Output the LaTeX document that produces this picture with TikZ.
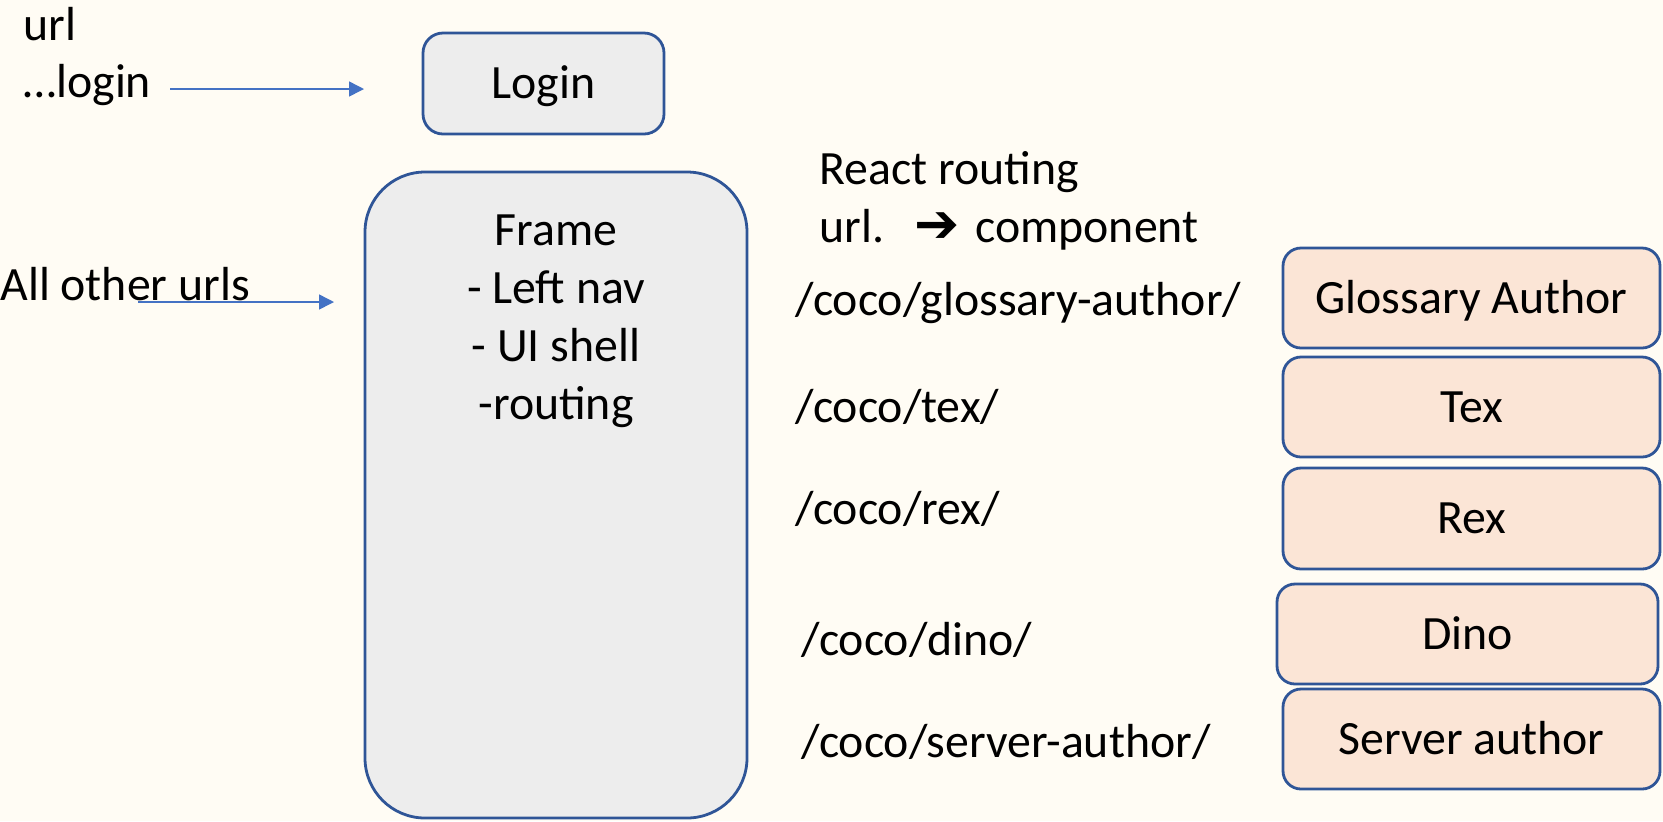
\documentclass[tikz,border=0pt]{standalone}
\usepackage{fontspec}
\setmainfont{Carlito}
\newfontfamily\dejavu{DejaVu Sans}
\usetikzlibrary{arrows.meta}
\definecolor{bg}{HTML}{FFFCF4}
\definecolor{edge}{HTML}{2F5597}
\definecolor{grayfill}{HTML}{EDEDED}
\definecolor{peach}{HTML}{FBE5D6}
\definecolor{arrowblue}{HTML}{4472C4}
\begin{document}
\begin{tikzpicture}[x=0.5pt,y=-0.5pt,
  bigfont/.style={font=\fontsize{23.9pt}{29pt}\selectfont},
  txt/.style={bigfont, inner sep=0pt, anchor=base west},
  ctxt/.style={bigfont, inner sep=0pt, anchor=base},
  box/.style={draw=edge, line width=1.4pt, bigfont, inner sep=0pt,
              text height=15.4pt, text depth=0pt},
  greybox/.style={box, fill=grayfill},
  peachbox/.style={box, fill=peach, rounded corners=9pt,
                   minimum width=188.5pt, minimum height=50pt},
  arr/.style={draw=arrowblue, line width=0.75pt,
              -{Triangle[length=7.5pt,width=7.5pt]}}]
\useasboundingbox (0,0) rectangle (1663,821);
\fill[bg] (0,0) rectangle (1663,821);

% left texts
\node[txt] (urltxt) at (23,40) {url};
\node[txt] (logintxt) at (23,97) {…login};
\node[txt] (othertxt) at (0,300) {All other urls};

% login and frame
\node[greybox, rounded corners=10pt, minimum width=120.5pt, minimum height=50.5pt]
  (login) at (543.5,83.5) {Login};
\node[greybox, rounded corners=30pt, minimum width=191pt, minimum height=323pt]
  (frame) at (556,495) {};
\node[ctxt] (f1) at (556,245) {Frame};
\node[ctxt] (f2) at (556,303) {- Left nav};
\node[ctxt] (f3) at (556,361) {- UI shell};
\node[ctxt] (f4) at (556,419) {-routing};

% arrows
\coordinate (a1s) at (170,89);
\coordinate (a1e) at (364,89);
\coordinate (a2s) at (138,302);
\coordinate (a2e) at (334,302);
\draw[arr] (a1s) -- (a1e);
\draw[arr] (a2s) -- (a2e);

% routing header
\node[txt] (react) at (819,184) {React routing};
\node[txt] (urlcomp) at (819,242) {url.\hspace{15pt}{\dejavu\fontsize{27pt}{29pt}\selectfont ➔}\hspace{8pt}component};

% route paths
\node[txt] (p1) at (795,315) {/coco/glossary-author/};
\node[txt] (p2) at (795,422) {/coco/tex/};
\node[txt] (p3) at (795,524) {/coco/rex/};
\node[txt] (p4) at (801,655) {/coco/dino/};
\node[txt] (p5) at (801,757) {/coco/server-author/};

% components
\node[peachbox] (glossary) at (1471.5,298) {Glossary Author};
\node[peachbox] (tex) at (1471.5,407) {Tex};
\node[peachbox, minimum height=50.5pt] (rex) at (1471.5,518.5) {Rex};
\node[peachbox, minimum width=190.5pt] (dino) at (1467.5,634) {Dino};
\node[peachbox] (server) at (1471.5,739) {Server author};
\end{tikzpicture}
\end{document}
